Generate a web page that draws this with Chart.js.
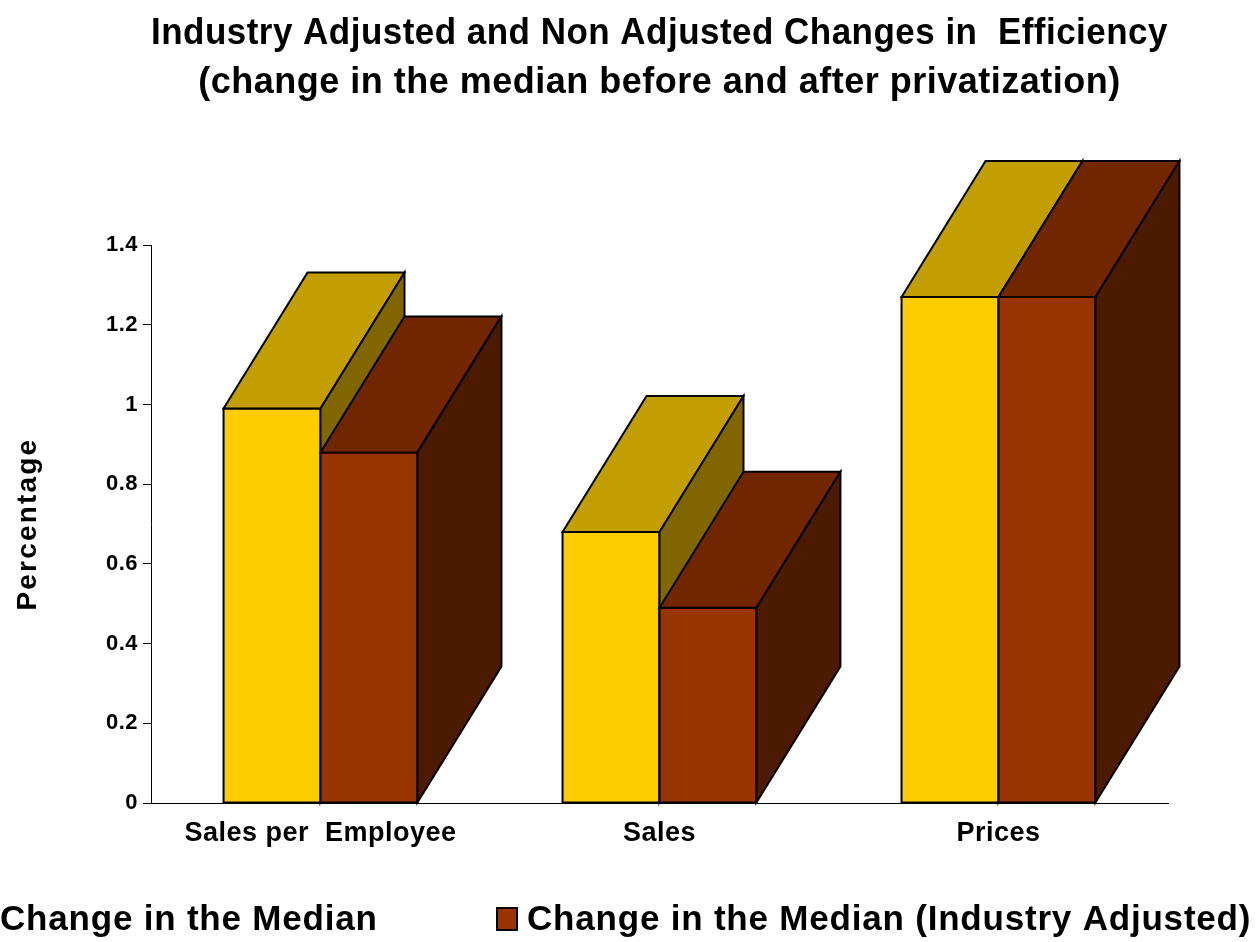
<!DOCTYPE html>
<html>
<head>
<meta charset="utf-8">
<script src="https://cdn.jsdelivr.net/npm/chart.js@4"></script>
<style>
html,body{margin:0;padding:0;background:#fff;overflow:hidden;}
canvas{display:block;}
</style>
</head>
<body>
<canvas id="c" width="1257" height="942"></canvas>
<script>
const categories = ["Sales per  Employee", "Sales", "Prices"];
const seriesNames = ["Change in the Median", "Change in the Median (Industry Adjusted)"];
const medianChange = [0.99, 0.68, 1.27];
const industryAdjusted = [0.88, 0.49, 1.27];
const yTicks = [0, 0.2, 0.4, 0.6, 0.8, 1, 1.2, 1.4];
const titleLines = ["Industry Adjusted and Non Adjusted Changes in  Efficiency", "(change in the median before and after privatization)"];
const yTitle = "Percentage";

const FONT = "'Liberation Sans', Arial, sans-serif";
const palette = [
  {front: "#FFCC00", top: "#C29E00", side: "#816600"},
  {front: "#993300", top: "#722600", side: "#4C1A00"}
];
const DX = 84, DY = -136;

const spacing = {
  id: "spacing",
  beforeInit(chart) { chart.ctx.letterSpacing = "0.5px"; },
  beforeLayout(chart) { chart.ctx.letterSpacing = "0.5px"; },
  beforeDraw(chart) { chart.ctx.letterSpacing = "0.5px"; }
};

const bars3d = {
  id: "bars3d",
  afterDatasetsDraw(chart) {
    const ctx = chart.ctx;
    ctx.save();
    ctx.lineWidth = 2;
    ctx.strokeStyle = "#000";
    ctx.lineJoin = "miter";
    const n = chart.data.labels.length;
    for (let j = 0; j < n; j++) {
      chart.data.datasets.forEach((ds, i) => {
        const el = chart.getDatasetMeta(i).data[j];
        const L = el.x - el.width / 2, R = el.x + el.width / 2, T = el.y, B = el.base;
        const c = palette[i];
        ctx.fillStyle = c.front;
        ctx.beginPath();
        ctx.rect(L, T, R - L, B - T);
        ctx.fill(); ctx.stroke();
        ctx.fillStyle = c.top;
        ctx.beginPath();
        ctx.moveTo(L, T); ctx.lineTo(L + DX, T + DY); ctx.lineTo(R + DX, T + DY); ctx.lineTo(R, T); ctx.closePath();
        ctx.fill(); ctx.stroke();
        ctx.fillStyle = c.side;
        ctx.beginPath();
        ctx.moveTo(R, T); ctx.lineTo(R + DX, T + DY); ctx.lineTo(R + DX, B + DY); ctx.lineTo(R, B); ctx.closePath();
        ctx.fill(); ctx.stroke();
      });
    }
    ctx.restore();
  },
  afterDraw(chart) {
    const ctx = chart.ctx;
    const area = chart.chartArea;
    ctx.save();
    ctx.font = "bold 28px " + FONT;
    ctx.letterSpacing = "2.2px";
    ctx.fillStyle = "#000";
    ctx.textAlign = "center";
    ctx.textBaseline = "middle";
    ctx.translate(28, (area.top + area.bottom) / 2);
    ctx.rotate(-Math.PI / 2);
    ctx.fillText(yTitle, 0, 0);
    ctx.setTransform(1, 0, 0, 1, 0, 0);
    ctx.font = "bold 35px " + FONT;
    ctx.letterSpacing = "0.8px";
    ctx.textAlign = "left";
    const items = [{sq: -32, tx: 0}, {sq: 497, tx: 527}];
    const yc = 919;
    chart.data.datasets.forEach((ds, i) => {
      const it = items[i];
      ctx.fillStyle = palette[i].front;
      ctx.strokeStyle = "#000";
      ctx.lineWidth = 2;
      ctx.fillRect(it.sq, yc - 11, 20, 22);
      ctx.strokeRect(it.sq, yc - 11, 20, 22);
      ctx.fillStyle = "#000";
      ctx.fillText(ds.label, it.tx, yc + 1);
    });
    ctx.restore();
  }
};

new Chart(document.getElementById("c"), {
  type: "bar",
  data: {
    labels: categories,
    datasets: [
      {label: seriesNames[0], data: medianChange, backgroundColor: "rgba(0,0,0,0)", borderWidth: 0},
      {label: seriesNames[1], data: industryAdjusted, backgroundColor: "rgba(0,0,0,0)", borderWidth: 0}
    ]
  },
  options: {
    responsive: false,
    animation: false,
    layout: {padding: {left: 0, right: 89, top: 0, bottom: 0}},
    datasets: {bar: {categoryPercentage: 0.572, barPercentage: 1.0}},
    plugins: {
      legend: {display: false},
      tooltip: {enabled: false},
      title: {
        display: true,
        fullSize: false,
        text: titleLines,
        color: "#000",
        font: {family: FONT, size: 36, weight: "bold", lineHeight: 1.35},
        padding: {top: 10, bottom: 138}
      }
    },
    scales: {
      x: {
        grid: {display: false, drawTicks: false},
        border: {display: true, color: "#000", width: 1},
        ticks: {color: "#000", padding: 14, font: {family: FONT, size: 27, weight: "bold"}},
        afterFit(s) { s.height = 139; }
      },
      y: {
        min: 0, max: 1.4,
        afterBuildTicks(s) { s.ticks = yTicks.map(v => ({value: v})); },
        grid: {display: true, drawOnChartArea: false, drawTicks: true, tickLength: 8, color: "#000"},
        border: {display: true, color: "#000", width: 1},
        ticks: {color: "#000", padding: 5, font: {family: FONT, size: 22, weight: "bold"},
          callback: v => String(Math.round(v * 10) / 10)},
        afterFit(s) { s.width = 151; }
      }
    }
  },
  plugins: [spacing, bars3d]
});
</script>
</body>
</html>
